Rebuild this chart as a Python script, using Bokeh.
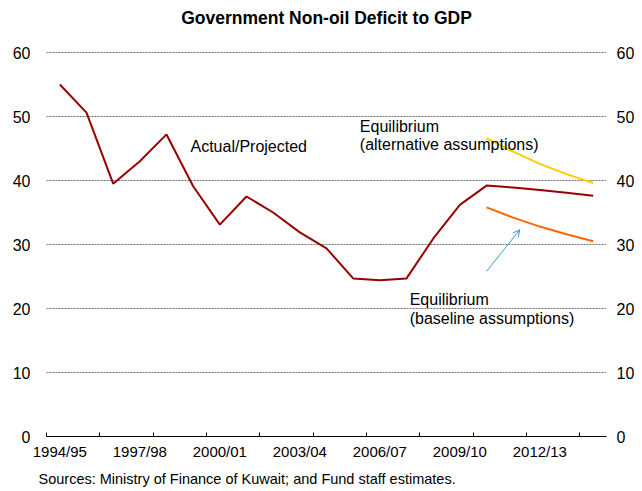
from bokeh.plotting import figure
from bokeh.models import LinearAxis, FixedTicker, Arrow, OpenHead, Label, Range1d, Title
from bokeh.embed import file_html
from bokeh.resources import INLINE

# ---- data ----
years = ["1994/95", "1995/96", "1996/97", "1997/98", "1998/99", "1999/00", "2000/01",
         "2001/02", "2002/03", "2003/04", "2004/05", "2005/06", "2006/07", "2007/08",
         "2008/09", "2009/10", "2010/11", "2011/12", "2012/13", "2013/14", "2014/15"]
actual_projected = [55.0, 50.6, 39.5, 43.0, 47.2, 39.1, 33.1, 37.5, 35.0, 31.9, 29.4,
                    24.7, 24.4, 24.7, 30.9, 36.2, 39.2, 38.9, 38.5, 38.1, 37.6]
eq_years = ["2010/11", "2011/12", "2012/13", "2013/14", "2014/15"]
eq_alternative = [46.6, 44.5, 42.6, 41.0, 39.6]
eq_baseline = [35.8, 34.2, 32.8, 31.6, 30.5]
y_ticks = [0, 10, 20, 30, 40, 50, 60]
x_tick_labels = ["1994/95", "1997/98", "2000/01", "2003/04", "2006/07", "2009/10", "2012/13"]

FONT = "Liberation Sans"
PX_PER_UNIT = 6.4      # vertical scale (384 px for 60 units)
TITLE_ROOM = 52        # px above the 60 line reserved for the title

x_all = [years.index(y) for y in years]
x_eq = [years.index(y) for y in eq_years]
x_lab = [years.index(y) for y in x_tick_labels]
x_bounds = [i - 0.5 for i in range(0, len(years), 2)]
y_top = y_ticks[-1] + TITLE_ROOM / PX_PER_UNIT

p = figure(frame_width=560, frame_height=int(y_top * PX_PER_UNIT),
           x_range=Range1d(-0.5, len(years) - 0.5), y_range=Range1d(0, y_top),
           min_border_left=46, min_border_right=36, min_border_top=0, min_border_bottom=54,
           output_backend="svg", toolbar_location=None, background_fill_color="white",
           border_fill_color="white", outline_line_color=None)

p.line(x_all, actual_projected, line_color="#990000", line_width=2)
p.line(x_eq, eq_alternative, line_color="#FFCC00", line_width=2)
p.line(x_eq, eq_baseline, line_color="#FF6600", line_width=2)

# x axis
xa = p.xaxis[0]
xa.ticker = FixedTicker(ticks=x_lab, minor_ticks=x_bounds)
xa.major_label_overrides = {i: years[i] for i in x_lab}
xa.major_tick_in = 0
xa.major_tick_out = 0
xa.minor_tick_in = 4
xa.minor_tick_out = 0
xa.minor_tick_line_color = "black"
xa.axis_line_color = "black"
xa.major_label_standoff = 6
xa.major_label_text_font = FONT
xa.major_label_text_font_size = "15px"
xa.major_label_text_color = "black"

# y axes
ya = p.yaxis[0]
ra = LinearAxis()
p.add_layout(ra, "right")
for ax in (ya, ra):
    ax.ticker = FixedTicker(ticks=y_ticks)
    ax.axis_line_color = None
    ax.major_tick_line_color = None
    ax.minor_tick_line_color = None
    ax.major_label_text_font = FONT
    ax.major_label_text_font_size = "16px"
    ax.major_label_text_color = "black"
ya.major_label_standoff = 10
ra.major_label_standoff = 4

p.xgrid.grid_line_color = None
p.ygrid.ticker = FixedTicker(ticks=y_ticks[1:])
p.ygrid.grid_line_color = "#707070"
p.ygrid.grid_line_dash = "2 1"
p.ygrid.grid_line_width = 1

# annotations
def lab(x, y, t, size="16px", style="normal", align="left"):
    p.add_layout(Label(x=x, y=y, text=t, text_font=FONT, text_font_size=size,
                       text_font_style=style, text_color="black",
                       text_baseline="middle", text_align=align))

lab(4.9, 45.3, "Actual/Projected")
lab(11.25, 48.5, "Equilibrium")
lab(11.25, 45.6, "(alternative assumptions)")
lab(13.12, 21.4, "Equilibrium")
lab(13.12, 18.4, "(baseline assumptions)")

p.add_layout(Arrow(end=OpenHead(size=7, line_color="#3A9AD9", line_width=1),
                   x_start=16, y_start=25.8, x_end=17.25, y_end=32.3,
                   line_color="#3A9AD9", line_width=1))

# title (inside the frame's reserved top room)
lab((len(years) - 1) / 2, y_top - 17 / PX_PER_UNIT, "Government Non-oil Deficit to GDP",
    size="17.5px", style="bold", align="center")

# source note
p.add_layout(Title(text="Sources: Ministry of Finance of Kuwait; and Fund staff estimates.",
                   align="left", offset=-8, text_font=FONT, text_font_size="14.5px",
                   text_font_style="normal", text_color="black", standoff=13), "below")

open("out.html", "w").write(file_html(p, INLINE))
